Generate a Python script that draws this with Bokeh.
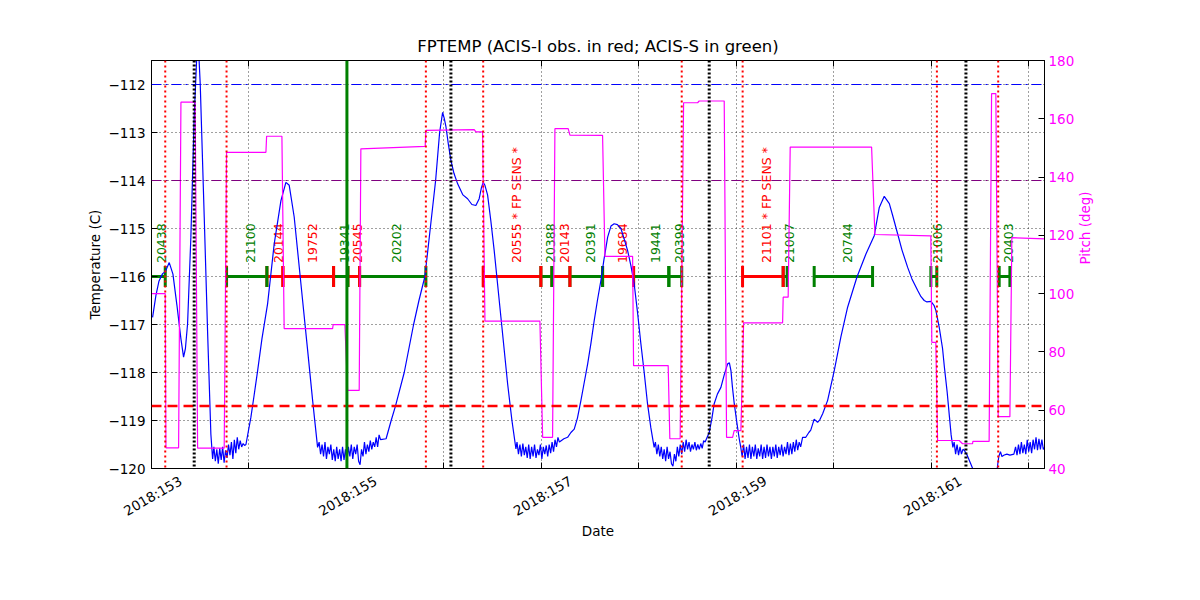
import math
from bokeh.plotting import figure
from bokeh.models import Range1d, LinearAxis, FixedTicker, Span, ColumnDataSource
from bokeh.core.properties import value
from bokeh.embed import file_html
from bokeh.resources import INLINE

TITLE = "FPTEMP (ACIS-I obs. in red; ACIS-S in green)"
FONT = "DejaVu Sans"

# ---- axes ----
day_ticks = [153, 154, 155, 156, 157, 158, 159, 160, 161, 162]
label_days = [153, 155, 157, 159, 161]
label_texts = ["2018:153", "2018:155", "2018:157", "2018:159", "2018:161"]
temp_ticks = [-120, -119, -118, -117, -116, -115, -114, -113, -112]
temp_labels = ["\u2212120", "\u2212119", "\u2212118", "\u2212117", "\u2212116",
               "\u2212115", "\u2212114", "\u2212113", "\u2212112"]
pitch_ticks = [40, 60, 80, 100, 120, 140, 160, 180]

# ---- FPTEMP telemetry (day of year 2018, deg C) ----
temp_days = [
    153.011, 153.045, 153.076, 153.114, 153.141, 153.182, 153.220, 153.261, 153.302, 153.329,
    153.348, 153.370, 153.404, 153.438, 153.463, 153.479, 153.500, 153.541, 153.576, 153.609,
    153.627,
    153.640, 153.655, 153.670, 153.685, 153.700, 153.715, 153.730, 153.745, 153.760, 153.775,
    153.790, 153.805, 153.820, 153.835, 153.850, 153.865, 153.880, 153.895, 153.910, 153.925,
    153.940, 153.955, 153.969,
    154.020, 154.051, 154.089, 154.133, 154.191, 154.259, 154.328, 154.379, 154.413, 154.464,
    154.533, 154.602, 154.653, 154.704,
    154.720, 154.735, 154.750, 154.765, 154.780, 154.795, 154.810, 154.825, 154.840, 154.855,
    154.870, 154.885, 154.900, 154.915, 154.930, 154.945, 154.960, 154.975, 154.990, 155.005,
    155.020, 155.035, 155.050, 155.065, 155.080, 155.095, 155.110, 155.125, 155.140, 155.155,
    155.170, 155.185, 155.200, 155.215, 155.230, 155.245, 155.260, 155.275, 155.290, 155.305,
    155.320, 155.335, 155.350,
    155.407, 155.459, 155.503, 155.593, 155.689, 155.744, 155.805, 155.860, 155.915, 155.956,
    155.987, 156.003, 156.021, 156.046, 156.072, 156.103, 156.141, 156.195, 156.243, 156.287,
    156.328, 156.362, 156.385, 156.403, 156.421, 156.448, 156.482, 156.516, 156.585, 156.654,
    156.698, 156.739,
    156.750, 156.765, 156.780, 156.795, 156.810, 156.825, 156.840, 156.855, 156.870, 156.885,
    156.900, 156.915, 156.930, 156.945, 156.960, 156.975, 156.990, 157.005, 157.020, 157.035,
    157.050, 157.065, 157.080, 157.095, 157.110, 157.125, 157.140, 157.155, 157.170, 157.185,
    157.231, 157.269, 157.303, 157.337, 157.370, 157.406, 157.436, 157.475, 157.508, 157.542,
    157.575, 157.611, 157.642, 157.680, 157.714, 157.747, 157.780, 157.816, 157.847, 157.885,
    157.919, 157.952, 157.985, 158.021, 158.055, 158.089, 158.123, 158.157,
    158.170, 158.185, 158.200, 158.215, 158.230, 158.245, 158.260, 158.275, 158.290, 158.305,
    158.320, 158.335, 158.350, 158.365, 158.380, 158.395, 158.410, 158.425, 158.440, 158.455,
    158.470, 158.485, 158.500, 158.515, 158.530, 158.545, 158.560, 158.575, 158.590, 158.605,
    158.620, 158.635, 158.650, 158.665, 158.680,
    158.722, 158.750, 158.773, 158.806, 158.842, 158.876, 158.911, 158.929, 158.945, 158.960,
    158.979, 159.006, 159.030,
    159.045, 159.060, 159.075, 159.090, 159.105, 159.120, 159.135, 159.150, 159.165, 159.180,
    159.195, 159.210, 159.225, 159.240, 159.255, 159.270, 159.285, 159.300, 159.315, 159.330,
    159.345, 159.360, 159.375, 159.390, 159.405, 159.420, 159.435, 159.450, 159.465, 159.480,
    159.495, 159.510, 159.525, 159.540, 159.555, 159.570, 159.585, 159.600, 159.615, 159.630,
    159.645, 159.660, 159.680,
    159.713, 159.744, 159.764, 159.799, 159.834, 159.858, 159.886, 159.937, 160.005, 160.073,
    160.142, 160.238, 160.330, 160.415, 160.467, 160.518, 160.570, 160.607, 160.655, 160.700,
    160.758, 160.802, 160.861, 160.895, 160.928, 160.956, 160.997, 161.028, 161.048, 161.082,
    161.116, 161.135, 161.163, 161.187, 161.204, 161.222,
    161.235, 161.250, 161.265, 161.280, 161.295, 161.310, 161.325, 161.338, 161.363, 161.405,
    161.435, 161.487, 161.559, 161.631, 161.672, 161.680, 161.693, 161.710, 161.725, 161.749,
    161.776, 161.807, 161.848,
    161.865, 161.880, 161.895, 161.910, 161.925, 161.940, 161.955, 161.970, 161.985, 162.000,
    162.015, 162.030, 162.045, 162.060, 162.075, 162.090, 162.105, 162.120, 162.135, 162.150,
    162.166,
]
temp_degc = [
    -116.85, -116.40, -116.10, -115.94, -115.90, -115.71, -115.95, -116.60, -117.30, -117.68,
    -117.50, -116.99, -115.18, -112.68, -111.48, -111.10, -111.99, -114.76, -117.19, -119.28,
    -119.80,
    -119.55, -119.85, -119.60, -119.90, -119.58, -119.82, -119.55, -119.88, -119.62, -119.78,
    -119.50, -119.72, -119.45, -119.80, -119.40, -119.68, -119.35, -119.60, -119.42, -119.55,
    -119.48, -119.52, -119.50,
    -118.93, -118.50, -117.96, -117.30, -116.57, -115.32, -114.42, -114.04, -114.10, -114.76,
    -116.15, -117.54, -118.58, -119.56,
    -119.45, -119.70, -119.50, -119.75, -119.45, -119.80, -119.55, -119.70, -119.50, -119.82,
    -119.60, -119.85, -119.55, -119.80, -119.60, -119.85, -119.55, -119.82, -119.60, -119.85,
    -119.55, -119.75, -119.50, -119.80, -119.55, -119.70, -119.50, -119.85, -119.92, -119.60,
    -119.75, -119.45, -119.70, -119.50, -119.65, -119.42, -119.60, -119.45, -119.55, -119.35,
    -119.55, -119.30, -119.40,
    -119.38, -119.00, -118.70, -118.00, -117.00, -116.50, -116.00, -115.00, -114.00, -113.00,
    -112.58, -112.70, -112.88, -113.25, -113.58, -113.85, -114.07, -114.30, -114.38, -114.50,
    -114.52, -114.38, -114.15, -114.04, -114.10, -114.30, -114.85, -115.46, -116.85, -118.24,
    -119.00, -119.59,
    -119.45, -119.70, -119.50, -119.75, -119.48, -119.72, -119.55, -119.78, -119.50, -119.80,
    -119.55, -119.75, -119.50, -119.78, -119.60, -119.72, -119.50, -119.80, -119.55, -119.70,
    -119.52, -119.75, -119.50, -119.68, -119.45, -119.65, -119.40, -119.55, -119.35, -119.45,
    -119.38, -119.35, -119.25, -119.18, -118.95, -118.58, -118.25, -117.82, -117.40, -116.92,
    -116.50, -116.08, -115.65, -115.18, -114.95, -114.90, -114.92, -115.00, -115.20, -115.46,
    -115.78, -116.15, -116.72, -117.40, -118.00, -118.65, -119.15, -119.56,
    -119.45, -119.70, -119.50, -119.75, -119.55, -119.80, -119.60, -119.85, -119.55, -119.80,
    -119.65, -119.90, -119.95, -119.70, -119.85, -119.55, -119.75, -119.50, -119.70, -119.45,
    -119.65, -119.40, -119.60, -119.45, -119.65, -119.50, -119.60, -119.45, -119.62, -119.50,
    -119.60, -119.48, -119.58, -119.42, -119.45,
    -119.25, -118.95, -118.65, -118.45, -118.31, -118.05, -117.82, -117.80, -117.96, -118.30,
    -118.65, -119.05, -119.38,
    -119.55, -119.75, -119.50, -119.80, -119.55, -119.78, -119.50, -119.80, -119.55, -119.75,
    -119.50, -119.80, -119.58, -119.75, -119.50, -119.80, -119.55, -119.78, -119.50, -119.75,
    -119.55, -119.80, -119.55, -119.75, -119.50, -119.78, -119.55, -119.72, -119.50, -119.75,
    -119.55, -119.70, -119.45, -119.72, -119.48, -119.70, -119.45, -119.65, -119.40, -119.62,
    -119.45, -119.55, -119.35,
    -119.35, -119.25, -119.20, -118.97, -119.04, -118.98, -118.86, -118.58, -117.96, -117.26,
    -116.64, -116.01, -115.53, -115.15, -114.56, -114.33, -114.48, -114.75, -115.11, -115.45,
    -115.81, -116.05, -116.29, -116.42, -116.50, -116.53, -116.52, -116.60, -116.71, -117.06,
    -117.50, -117.89, -118.40, -118.93, -119.30, -119.56,
    -119.45, -119.70, -119.50, -119.72, -119.55, -119.70, -119.60, -119.62, -119.70, -119.90,
    -120.05, -120.30, -120.50, -120.40, -120.10, -119.95, -119.75, -119.65, -119.75, -119.72,
    -119.70, -119.72, -119.70,
    -119.55, -119.72, -119.50, -119.70, -119.45, -119.68, -119.50, -119.70, -119.40, -119.65,
    -119.45, -119.68, -119.40, -119.60, -119.35, -119.62, -119.38, -119.60, -119.40, -119.60,
    -119.55,
]

# ---- Pitch (deg) ----
pitch_days = [
    153.004, 153.141, 153.148, 153.278, 153.302, 153.448, 153.473, 153.746, 153.770, 154.174,
    154.181, 154.338, 154.361, 154.858, 154.864, 154.984, 155.012, 155.131, 155.148, 155.808,
    155.815, 156.311, 156.328, 156.397, 156.421, 156.985, 157.013, 157.115, 157.139, 157.275,
    157.293, 157.628, 157.652, 157.936, 157.946, 158.301, 158.318, 158.424, 158.459, 158.603,
    158.619, 158.876, 158.900, 158.962, 158.978, 159.047, 159.075, 159.475, 159.481, 159.532,
    159.553, 160.388, 160.422, 160.996, 161.006, 161.047, 161.065, 161.287, 161.321, 161.424,
    161.427, 161.594, 161.619, 161.663, 161.687, 161.807, 161.827, 162.166,
]
pitch_deg = [
    100.0, 100.0, 47.1, 47.1, 165.7, 165.7, 47.0, 47.0, 148.5, 148.5,
    154.0, 154.0, 88.0, 88.0, 89.4, 89.4, 66.8, 66.8, 149.7, 150.5,
    156.0, 156.3, 155.5, 155.5, 90.6, 90.6, 50.7, 50.7, 156.6, 156.6,
    154.4, 154.3, 112.8, 112.8, 75.3, 75.3, 50.2, 50.2, 165.5, 165.5,
    166.1, 166.1, 50.7, 50.7, 53.0, 53.0, 90.0, 90.0, 98.8, 98.8,
    150.3, 150.3, 120.3, 119.8, 83.3, 83.3, 49.6, 49.6, 48.5, 48.5,
    49.3, 49.3, 168.6, 168.6, 57.8, 57.8, 119.2, 118.8,
]

# ---- observations ----
obs_ids = ["20438", "21100", "20144", "19752", "19341", "20545", "20202",
           "20555 * FP SENS *", "20388", "20143", "20391", "19684", "19441", "20399",
           "21101 * FP SENS *", "21007", "20744", "21006", "20403"]
obs_start = [152.990, 153.770, 154.184, 154.348, 154.868, 155.015, 155.135,
             156.403, 156.995, 157.108, 157.293, 157.628, 157.946, 158.308,
             159.064, 159.481, 159.799, 160.996, 161.697]
obs_stop = [153.141, 154.184, 154.348, 154.868, 155.015, 155.135, 155.815,
            156.995, 157.108, 157.293, 157.628, 157.946, 158.308, 158.440,
            159.481, 159.522, 160.398, 161.057, 161.807]
obs_instr = ["S", "S", "I", "I", "S", "I", "S",
             "I", "S", "I", "S", "I", "S", "S",
             "I", "S", "S", "S", "S"]
obs_level = -116.0

# ---- event lines ----
rad_zone_days = [153.141, 153.770, 155.815, 156.403, 158.440, 159.065, 161.058, 161.687]
perigee_days = [153.438, 156.072, 158.722, 161.356]
now_day = 155.005
limit_blue = -112.0
limit_purple = -114.0
limit_red = -118.7

# ---------------------------------------------------------------
X0, X1 = 153.0, 162.162
Y0, Y1 = -120.0, -111.5
LABEL_SHIFT = 0.30   # rotated date labels are centred on their tick
p = figure(frame_width=893, frame_height=408,
           x_range=Range1d(X0, X1), y_range=Range1d(Y0, Y1),
           output_backend="svg", toolbar_location=None,
           min_border_left=151, min_border_right=150,
           min_border_top=60, min_border_bottom=124,
           title=TITLE, background_fill_color="white", border_fill_color="white")
p.extra_y_ranges = {"pitch": Range1d(40, 180)}
p.extra_x_ranges = {"lbl": Range1d(X0 - LABEL_SHIFT, X1 - LABEL_SHIFT)}

p.title.text_font = FONT
p.title.text_font_size = "16.5px"
p.title.text_font_style = "normal"
p.title.align = "center"
p.title.text_color = "black"
p.outline_line_color = "black"
p.outline_line_alpha = 1.0

# x axis: tick marks on every day
xa = p.xaxis[0]
xa.ticker = FixedTicker(ticks=day_ticks)
xa.major_label_overrides = {d: "" for d in day_ticks}
xa.major_label_text_font_size = "1px"
xa.major_label_standoff = 0
# top ticks (no labels)
ta = LinearAxis(ticker=FixedTicker(ticks=day_ticks),
                major_label_overrides={d: "" for d in day_ticks})
ta.major_label_text_font_size = "1px"
ta.major_label_standoff = 0
p.add_layout(ta, "above")
# x axis: rotated date labels
la = LinearAxis(x_range_name="lbl", ticker=FixedTicker(ticks=label_days),
                major_label_overrides={d: t for d, t in zip(label_days, label_texts)},
                major_label_orientation=math.pi / 6, axis_label="Date")
p.add_layout(la, "below")
# y axis
ya = p.yaxis[0]
ya.ticker = FixedTicker(ticks=temp_ticks)
ya.major_label_overrides = {t: lab for t, lab in zip(temp_ticks, temp_labels)}
ya.axis_label = "Temperature (C)"

ra = LinearAxis(y_range_name="pitch", ticker=FixedTicker(ticks=pitch_ticks),
                axis_label="Pitch (deg)")
p.add_layout(ra, "right")

for ax in [xa, ta, ya, ra, la]:
    if ax is not xa and ax is not ta:
        ax.major_label_text_font = FONT
        ax.major_label_text_font_size = "13.5px"
        ax.major_label_text_color = "black"
    ax.axis_label_text_font = FONT
    ax.axis_label_text_font_size = "13.5px"
    ax.axis_label_text_font_style = "normal"
    ax.axis_label_text_color = "black"
    ax.major_tick_in = 6
    ax.major_tick_out = 0
    ax.minor_tick_line_color = None
    ax.axis_line_color = "black"
    ax.major_tick_line_color = "black"
la.axis_line_color = None
la.major_tick_line_color = None
la.major_tick_in = 0
la.major_label_standoff = 11
la.axis_label_standoff = -6
ya.major_label_standoff = 6
ra.major_label_standoff = 4
ra.major_label_text_color = "#FF00FF"
ra.axis_label_text_color = "#FF00FF"
ra.axis_label_standoff = 8
ya.axis_label_standoff = 2
try:
    ra.axis_label_orientation = math.pi / 2
except Exception:
    pass

p.xgrid.ticker = FixedTicker(ticks=day_ticks)
p.ygrid.ticker = FixedTicker(ticks=temp_ticks)
for g in [p.xgrid[0], p.ygrid[0]]:
    g.grid_line_color = "black"
    g.grid_line_alpha = 0.75
    g.grid_line_width = 1
    g.grid_line_dash = "1 3"

# observations
colors = ["#FF0000" if s == "I" else "#008000" for s in obs_instr]
src = ColumnDataSource(dict(
    start=obs_start, stop=obs_stop, color=colors, ids=obs_ids,
    lvl=[obs_level] * len(obs_ids),
    lo=[obs_level - 0.22] * len(obs_ids), hi=[obs_level + 0.22] * len(obs_ids),
    mid=[(a + b) / 2 for a, b in zip(obs_start, obs_stop)],
    ty=[obs_level + 0.28] * len(obs_ids),
))
p.segment(x0="start", y0="lvl", x1="stop", y1="lvl", line_color="color", line_width=3, source=src)
p.segment(x0="start", y0="lo", x1="start", y1="hi", line_color="color", line_width=3, source=src)
p.segment(x0="stop", y0="lo", x1="stop", y1="hi", line_color="color", line_width=3, source=src)
p.text(x="mid", y="ty", text="ids", angle=math.pi / 2, x_offset=4,
       text_align="left", text_baseline="middle", text_color="color",
       text_font=value(FONT), text_font_size="12.5px", source=src)

# temperature
p.line(temp_days, temp_degc, line_color="#0000FF", line_width=1.2)

# limit lines
p.add_layout(Span(location=limit_blue, dimension="width", line_color="#0000FF",
                  line_width=1, line_dash="10 4 2 4"))
p.add_layout(Span(location=limit_purple, dimension="width", line_color="#800080",
                  line_width=1, line_dash="10 4 2 4"))
p.add_layout(Span(location=limit_red, dimension="width", line_color="#FF0000",
                  line_width=2.5, line_dash="10 6"))
for d in rad_zone_days:
    p.add_layout(Span(location=d, dimension="height", line_color="#FF0000",
                      line_width=2, line_dash="2 3"))
for d in perigee_days:
    p.add_layout(Span(location=d, dimension="height", line_color="black",
                      line_width=3, line_dash="2 2"))
p.add_layout(Span(location=now_day, dimension="height", line_color="#008000", line_width=3))

# pitch
p.line(pitch_days, pitch_deg, line_color="#FF00FF", line_width=1.2, y_range_name="pitch")

open("out.html", "w").write(file_html(p, INLINE))
